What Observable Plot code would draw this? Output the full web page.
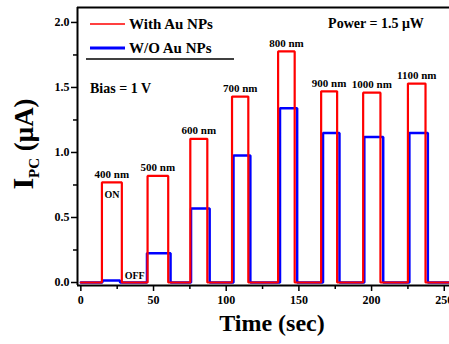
<!DOCTYPE html>
<html><head><meta charset="utf-8">
<script src="https://cdn.jsdelivr.net/npm/d3@7"></script>
<script src="https://cdn.jsdelivr.net/npm/@observablehq/plot@0.6"></script>
<style>body{margin:0;background:#fff;} svg{display:block;}</style>
</head><body><div id="chart"></div>
<script>
// Data
const wavelengths = ["400 nm","500 nm","600 nm","700 nm","800 nm","900 nm","1000 nm","1100 nm"];
const redOn  = [14.5, 45.9, 75.3, 104.0, 135.7, 165.3, 194.2, 225.0];
const redOff = [28.2, 60.1, 87.0, 115.2, 147.1, 176.3, 206.1, 237.1];
const withAu = [0.77, 0.82, 1.105, 1.43, 1.777, 1.47, 1.46, 1.53];
const blueOn  = [14.8, 45.5, 75.8, 105.0, 137.0, 166.6, 195.0, 226.0];
const blueOff = [27.0, 61.7, 88.6, 116.6, 148.8, 177.9, 208.0, 238.7];
const withoutAu = [0.015, 0.225, 0.57, 0.977, 1.34, 1.15, 1.12, 1.15];
const tStart = 0, tEnd = 253.6;
const xMajor = [0, 50, 100, 150, 200, 250];
const xMinor = [25, 75, 125, 175, 225];
const yMajor = [0, 0.5, 1.0, 1.5, 2.0];
const yMinor = [0.25, 0.75, 1.25, 1.75];

function square(on, off, vals) {
  const pts = [{t: tStart, v: 0}];
  on.forEach((a, i) => {
    pts.push({t: a, v: 0}, {t: a, v: vals[i]}, {t: off[i], v: vals[i]}, {t: off[i], v: 0});
  });
  pts.push({t: tEnd, v: 0});
  return pts;
}
const redData = square(redOn, redOff, withAu);
const blueData = square(blueOn, blueOff, withoutAu);
const labelData = wavelengths.map((w, i) => ({t: (redOn[i] + redOff[i]) / 2, v: withAu[i], text: w}));

const xDom = [-2.3, 253.6], yDom = [-0.023, 2.115];
const font = "Liberation Serif, Times New Roman, serif";

const chart = Plot.plot({
  width: 449, height: 344,
  marginLeft: 77, marginRight: 0, marginTop: 7, marginBottom: 59,
  x: {domain: xDom},
  y: {domain: yDom},
  style: {fontFamily: font, fontWeight: "bold", fontSize: "12px", color: "black", background: "white", overflow: "visible"},
  marks: [
    Plot.axisX({ticks: xMajor, tickSize: 6, tickPadding: 4, label: null, strokeWidth: 1.5, fontSize: 12}),
    Plot.axisX({ticks: xMinor, tickSize: 4, tickFormat: () => "", label: null, strokeWidth: 1.5}),
    Plot.axisY({ticks: yMajor, tickSize: 6, tickPadding: 2, tickFormat: d3.format(".1f"), label: null, strokeWidth: 1.5, fontSize: 12}),
    Plot.axisY({ticks: yMinor, tickSize: 4, tickFormat: () => "", label: null, strokeWidth: 1.5}),
    Plot.line(blueData, {x: "t", y: "v", stroke: "#0000ff", strokeWidth: 2.5, strokeLinejoin: "miter"}),
    Plot.line(redData, {x: "t", y: "v", stroke: "#ff0000", strokeWidth: 2.2, strokeLinejoin: "miter"}),
    Plot.text(labelData, {x: "t", y: "v", text: "text", dy: -8, fontSize: 11, fontWeight: "bold", fill: "black"}),
    Plot.text([{t: labelData[0].t, v: withAu[0]}], {x: "t", y: "v", text: () => "ON", dy: 12, fontSize: 10, fill: "black"}),
    Plot.text([{t: (redOff[0] + redOn[1]) / 2, v: 0}], {x: "t", y: "v", text: () => "OFF", dy: -7, fontSize: 10, fill: "black"}),
    Plot.ruleX([xDom[0]], {stroke: "black", strokeWidth: 2}),
    Plot.ruleY([yDom[0], yDom[1]], {stroke: "black", strokeWidth: 2})
  ]
});
document.getElementById("chart").appendChild(chart);

const svg = d3.select(chart);
// Y title
const yt = svg.append("text")
  .attr("transform", "translate(33,144) rotate(-90)")
  .attr("text-anchor", "middle")
  .style("font-family", font).style("font-weight", "bold").style("font-size", "27px").attr("fill", "black");
yt.append("tspan").style("font-size", "30px").text("I");
yt.append("tspan").attr("dy", 6).style("font-size", "15px").text("PC");
yt.append("tspan").attr("dy", -6).text(" (μA)");
// X title
svg.append("text").attr("x", 272).attr("y", 331).attr("text-anchor", "middle")
  .style("font-family", font).style("font-weight", "bold").style("font-size", "24px").attr("fill", "black")
  .text("Time (sec)");
// Legend and notes
const lg = svg.append("g").attr("text-anchor", "start").style("font-family", font).style("font-weight", "bold").style("font-size", "15px");
lg.append("line").attr("x1", 90).attr("x2", 125).attr("y1", 24).attr("y2", 24).attr("stroke", "#ff0000").attr("stroke-width", 1.5);
lg.append("text").attr("x", 129).attr("y", 29).text("With Au NPs");
lg.append("line").attr("x1", 90).attr("x2", 125).attr("y1", 48).attr("y2", 48).attr("stroke", "#0000ff").attr("stroke-width", 3);
lg.append("text").attr("x", 129).attr("y", 53).text("W/O Au NPs");
lg.append("line").attr("x1", 86).attr("x2", 234).attr("y1", 59).attr("y2", 59).attr("stroke", "black").attr("stroke-width", 1.5);
lg.append("text").attr("x", 376).attr("y", 28).attr("text-anchor", "middle").style("font-size", "14px").text("Power = 1.5 μW");
lg.append("text").attr("x", 90).attr("y", 93).style("font-size", "14px").text("Bias = 1 V");
</script></body></html>
